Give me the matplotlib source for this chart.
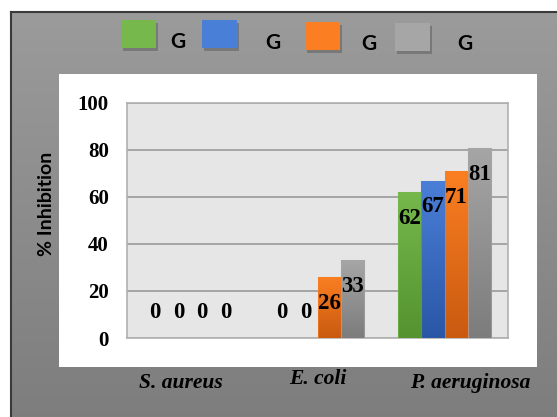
import numpy as np
import matplotlib
matplotlib.use("Agg")
import matplotlib.pyplot as plt
from matplotlib.patches import Rectangle
from matplotlib.colors import LinearSegmentedColormap
from matplotlib.transforms import ScaledTranslation

# Données
categories = ['S. aureus', 'E. coli', 'P. aeruginosa']
series_names = ['G', 'G', 'G', 'G']
g1 = [0, 0, 62]
g2 = [0, 0, 67]
g3 = [0, 26, 71]
g4 = [0, 33, 81]
values = [g1, g2, g3, g4]
yticks = [0, 20, 40, 60, 80, 100]

# couleurs (haut, bas) pour le dégradé
colors = [('#76b84c', '#549330'),
          ('#4a7fd8', '#2a56a6'),
          ('#fb7f22', '#c95a10'),
          ('#a6a6a6', '#7c7c7c')]

W, H = 557, 417
fig = plt.figure(figsize=(W / 100, H / 100), dpi=100)
fig.patch.set_facecolor('white')

# fond gris dégradé
bg = fig.add_axes([11 / W, -0.02, 1.0, 1.02 - 12 / H], zorder=0)
grad = np.linspace(0, 1, 256).reshape(-1, 1)
bg_cmap = LinearSegmentedColormap.from_list('bg', ['#9b9b9b', '#7d7d7d'])
bg.imshow(grad, aspect='auto', cmap=bg_cmap, extent=[0, 1, 0, 1], origin='upper')
bg.set_xlim(0, 1)
bg.set_ylim(0, 1)
bg.set_xticks([])
bg.set_yticks([])
for s in ['right', 'bottom']:
    bg.spines[s].set_visible(False)
for s in ['left', 'top']:
    bg.spines[s].set_color('#3a3a3a')
    bg.spines[s].set_linewidth(1.5)

# zone blanche
fig.patches.append(Rectangle((59 / W, 1 - 367 / H), 478 / W, 293 / H,
                             transform=fig.transFigure, facecolor='white',
                             edgecolor='none', zorder=1))

ax = fig.add_axes([127 / W, 1 - 338 / H, 381 / W, 235 / H], zorder=2)
ax.set_facecolor('#e6e6e6')

x = np.arange(len(categories))
width = 0.185
offsets = [-1.5, -0.5, 0.5, 1.5]

for i, vals in enumerate(values):
    bars = ax.bar(x + offsets[i] * width, vals, width, color=colors[i][0],
                  edgecolor='none', zorder=3)
    cmap = LinearSegmentedColormap.from_list('c%d' % i, [colors[i][0], colors[i][1]])
    for b, v in zip(bars, vals):
        if v > 0:
            bx, bw = b.get_x(), b.get_width()
            im = ax.imshow(grad, aspect='auto', cmap=cmap, origin='upper',
                           extent=[bx, bx + bw, 0, v], zorder=3.5)
            im.set_clip_path(b)
            ax.add_patch(Rectangle((bx, 0), bw, v, facecolor='none',
                                   edgecolor=colors[i][0], lw=0.8, alpha=0.6, zorder=3.6))
        dy = 18 if v == 0 else -19
        ax.annotate(str(v), (b.get_x() + b.get_width() / 2, v), xytext=(0, dy),
                    textcoords='offset points', ha='center', va='center',
                    fontsize=16.5, fontweight='bold', family='Liberation Serif', zorder=5)

ax.set_xlim(-0.5, 2.5)
ax.set_ylim(0, 100)
ax.set_yticks(yticks)
ax.grid(axis='y', color='#a0a0a0', lw=1.3, zorder=1)
ax.set_axisbelow(True)
for s in ax.spines.values():
    s.set_color('#b0b0b0')
    s.set_linewidth(1.2)
ax.tick_params(axis='y', length=0, pad=13, labelsize=15)
ax.tick_params(axis='x', length=0, pad=25, labelsize=15.5)
ax.set_xticks(x)
ax.set_xticklabels(categories)
for t in ax.get_yticklabels():
    t.set_family('Liberation Serif')
    t.set_fontweight('bold')
# décalages des noms de souches (en pixels)
lab_dx = [-10, 0, 26]
lab_dy = [0, 4, 0]
for t, dx, dy in zip(ax.get_xticklabels(), lab_dx, lab_dy):
    t.set_family('Liberation Serif')
    t.set_fontweight('bold')
    t.set_fontstyle('italic')
    t.set_transform(t.get_transform() + ScaledTranslation(dx / 100, dy / 100, fig.dpi_scale_trans))

fig.text(46 / W, 1 - 204 / H, '% Inhibition', rotation=90, ha='center', va='center',
         fontsize=14, fontweight='bold', family='Lato', zorder=5)

# légende
sq_x = [121, 202, 305, 395]
sq_y = [20, 20, 22, 23]
lab_x = [178, 273, 369, 465]
lab_y = [42, 43, 44, 44]
for i in range(4):
    fig.patches.append(Rectangle(((sq_x[i] + 2) / W, 1 - (sq_y[i] + 31) / H), 35 / W, 28 / H,
                                 transform=fig.transFigure, facecolor='#5a5a5a',
                                 alpha=0.5, edgecolor='none', zorder=2))
    fig.patches.append(Rectangle((sq_x[i] / W, 1 - (sq_y[i] + 28) / H), 35 / W, 28 / H,
                                 transform=fig.transFigure, facecolor=colors[i][0],
                                 edgecolor='none', zorder=3))
    fig.text(lab_x[i] / W, 1 - lab_y[i] / H, series_names[i], ha='center', va='center',
             fontsize=15, fontweight='bold', family='Lato', zorder=5)

fig.savefig('out.png', dpi=100)
